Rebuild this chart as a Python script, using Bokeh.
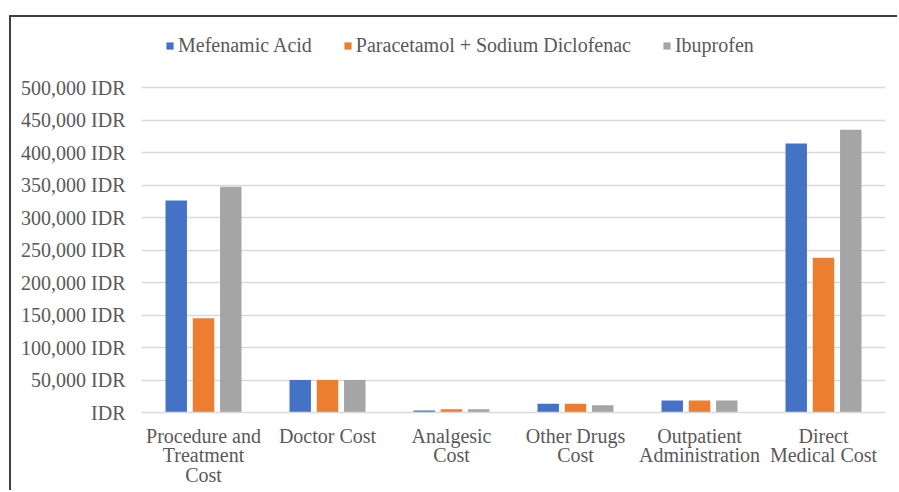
from bokeh.plotting import figure
from bokeh.models import ColumnDataSource, FactorRange, Range1d, FixedTicker, Legend
from bokeh.transform import dodge
from bokeh.embed import file_html
from bokeh.resources import INLINE

categories = ["Procedure and\nTreatment\nCost", "Doctor Cost", "Analgesic\nCost",
              "Other Drugs\nCost", "Outpatient\nAdministration", "Direct\nMedical Cost"]
mefenamic = [326000, 50000, 3000, 13500, 18500, 414000]
paracetamol = [145000, 50000, 5000, 13500, 18500, 238000]
ibuprofen = [347500, 50000, 5000, 11000, 18500, 435000]
series_names = ["Mefenamic Acid", "Paracetamol + Sodium Diclofenac", "Ibuprofen"]
y_ticks = [0, 50000, 100000, 150000, 200000, 250000, 300000, 350000, 400000, 450000, 500000]
y_tick_labels = ["IDR", "50,000 IDR", "100,000 IDR", "150,000 IDR", "200,000 IDR", "250,000 IDR",
                 "300,000 IDR", "350,000 IDR", "400,000 IDR", "450,000 IDR", "500,000 IDR"]

colors = ["#4472C4", "#ED7D31", "#A5A5A5"]
FONT = "Liberation Serif"
TXT = "#595959"

src = ColumnDataSource(dict(cat=categories, m=mefenamic, p=paracetamol, i=ibuprofen))

p = figure(width=888, height=475, x_range=FactorRange(*categories), y_range=Range1d(0, 587700),
           output_backend="svg", toolbar_location=None,
           min_border_left=130, min_border_right=14, min_border_top=13, min_border_bottom=80)
p.styles = {"margin-left": "9px", "margin-top": "15px",
            "border-left": "2px solid #404040", "border-top": "2px solid #404040"}

renderers = []
for key, off, col in zip(["m", "p", "i"], [-0.22, 0.0, 0.22], colors):
    r = p.vbar(x=dodge("cat", off, range=p.x_range), top=key, width=0.173, source=src,
               fill_color=col, line_color=None)
    renderers.append(r)

legend = Legend(items=[(n, [r]) for n, r in zip(series_names, renderers)],
                orientation="horizontal", location=(24, 355),
                label_text_font=FONT, label_text_font_size="20px",
                label_text_color=TXT,
                glyph_width=9, glyph_height=9, label_standoff=4, spacing=31,
                border_line_color=None, background_fill_alpha=0, padding=0, margin=0)
p.add_layout(legend, "center")

p.outline_line_color = None
p.xgrid.grid_line_color = None
p.ygrid.grid_line_color = "#D9D9D9"
p.ygrid.grid_line_width = 1.3
p.yaxis.ticker = FixedTicker(ticks=y_ticks)
p.yaxis.major_label_overrides = {t: l for t, l in zip(y_ticks, y_tick_labels)}
p.yaxis.axis_line_color = None
p.yaxis.major_tick_line_color = None
p.yaxis.minor_tick_line_color = None
p.yaxis.major_label_standoff = 10
p.xaxis.axis_line_color = "#D9D9D9"
p.xaxis.axis_line_width = 1.3
p.xaxis.major_tick_line_color = None
p.xaxis.major_label_standoff = 6
for ax in (p.xaxis, p.yaxis):
    ax.major_label_text_font = FONT
    ax.major_label_text_font_size = "20px"
    ax.major_label_text_color = TXT
p.xaxis.major_label_text_line_height = 0.9

open("out.html", "w").write(file_html(p, INLINE))
